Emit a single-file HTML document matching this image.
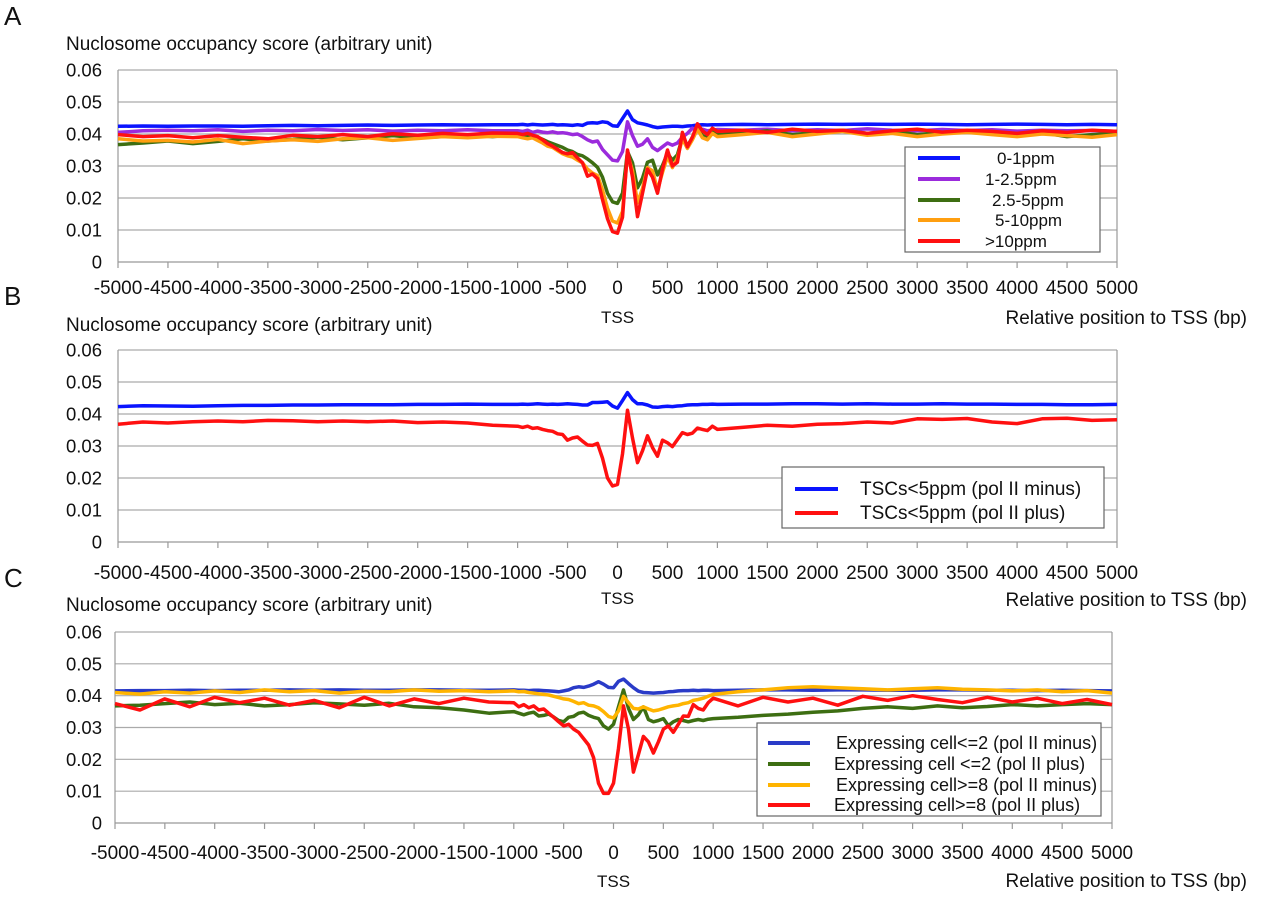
<!DOCTYPE html>
<html><head><meta charset="utf-8"><style>
body{margin:0;background:#fff;width:1280px;height:892px;overflow:hidden}
svg text{font-family:"Liberation Sans",Arial,sans-serif;fill:#111}
</style></head><body>
<svg id="chart" width="1280" height="892" viewBox="0 0 1280 892" xmlns="http://www.w3.org/2000/svg"></svg>
<script>
const positions=[-5000,-4750,-4500,-4250,-4000,-3750,-3500,-3250,-3000,-2750,-2500,-2250,-2000,-1750,-1500,-1250,
-1000,-950,-900,-850,-800,-750,-700,-650,-600,-550,-500,-450,-400,-350,-300,-250,-200,-150,-100,-50,0,50,100,150,200,250,300,350,400,450,500,550,600,650,700,750,800,850,900,950,1000,
1250,1500,1750,2000,2250,2500,2750,3000,3250,3500,3750,4000,4250,4500,4750,5000];
const xTickLabels=["-5000","-4500","-4000","-3500","-3000","-2500","-2000","-1500","-1000","-500","0","500","1000","1500","2000","2500","3000","3500","4000","4500","5000"];
const yTickLabels=["0","0.01","0.02","0.03","0.04","0.05","0.06"];
const A_blue=[.0424,.0425,.0424,.0425,.0425,.0424,.0426,.0427,.0426,.0427,.0428,.0427,.0428,.0429,.0428,.0429,
.0429,.043,.0428,.043,.0429,.0428,.0429,.043,.0428,.0429,.0428,.0427,.0429,.0427,.0434,.0435,.0434,.0438,.0436,.0426,.0424,.0448,.0472,.0445,.0435,.0432,.0428,.0423,.042,.0422,.0423,.0424,.0424,.0423,.0425,.0426,.0428,.0429,.0428,.0429,.0429,
.043,.0429,.043,.0431,.043,.0431,.043,.0431,.043,.0429,.043,.0431,.043,.0429,.043,.0429];
const A_purple=[.0405,.041,.0412,.041,.0413,.0408,.0412,.041,.0414,.0411,.0413,.0409,.0412,.041,.0413,.041,
.041,.0408,.0412,.0405,.0409,.0406,.0404,.0407,.0403,.0404,.0402,.0398,.04,.0392,.0382,.0375,.0378,.0352,.0335,.0318,.0316,.0345,.0438,.0395,.0362,.0368,.0385,.0358,.0348,.036,.0372,.0365,.0372,.039,.0402,.0418,.041,.0415,.041,.0412,.0414,
.0412,.0415,.041,.0413,.0411,.0416,.0412,.041,.0414,.0411,.0413,.0409,.0412,.041,.0411,.0408];
const A_green=[.0367,.0372,.0378,.037,.0377,.0385,.0378,.0383,.039,.0382,.0388,.0395,.0388,.0392,.0397,.0392,
.0398,.0394,.0396,.0392,.039,.0383,.0376,.037,.0364,.0358,.035,.0345,.0336,.0332,.0322,.031,.0296,.0265,.0215,.0188,.0183,.0215,.0345,.031,.0232,.0262,.0312,.0318,.0272,.0302,.034,.0318,.0335,.0388,.0362,.039,.0418,.0395,.0388,.041,.0398,
.0402,.041,.0398,.0405,.0412,.0402,.0408,.0398,.0405,.041,.0402,.0396,.0404,.0392,.0398,.0402];
const A_orange=[.0385,.0378,.038,.0375,.0383,.037,.0378,.0382,.0377,.0385,.0388,.038,.0386,.0392,.0388,.0393,
.0392,.0388,.0385,.0388,.038,.0372,.0362,.0358,.0348,.0338,.0332,.0328,.0318,.031,.029,.0278,.027,.0225,.0168,.0128,.0122,.0158,.0338,.0285,.0185,.023,.0295,.0285,.0225,.028,.033,.0295,.0325,.0385,.0355,.0382,.0415,.0388,.0382,.0402,.0392,
.0398,.0405,.0392,.04,.0408,.0396,.0402,.0392,.04,.0405,.0398,.0392,.04,.0395,.039,.0398];
const A_red=[.0398,.0392,.0395,.0388,.0395,.039,.0385,.0396,.0392,.0398,.0392,.0401,.0396,.0402,.0398,.0403,
.0402,.0398,.0402,.0396,.0392,.0382,.037,.0362,.0352,.0342,.0338,.0342,.0325,.031,.0268,.0275,.026,.0195,.0135,.0095,.009,.014,.035,.0265,.0142,.0215,.029,.0265,.0215,.029,.035,.03,.0312,.0405,.036,.039,.0432,.041,.0398,.0418,.0408,
.0412,.0405,.0415,.0408,.0412,.0402,.041,.0415,.0406,.0412,.0408,.0402,.041,.0405,.0412,.0408];
const B_blue=[.0423,.0426,.0425,.0424,.0426,.0427,.0427,.0428,.0428,.0429,.0429,.0429,.043,.043,.0431,.043,
.043,.0431,.043,.0431,.0432,.0431,.043,.0431,.043,.0431,.0432,.0431,.043,.0428,.0428,.0436,.0436,.0437,.0438,.0425,.0418,.0442,.0467,.0445,.0432,.0432,.0428,.0422,.0421,.0423,.0424,.0423,.0425,.0426,.0428,.0429,.0429,.043,.043,.0431,.043,
.0431,.0431,.0432,.0432,.0431,.0432,.0431,.0431,.0432,.0431,.0431,.043,.043,.0429,.0429,.043];
const B_red=[.0368,.0375,.0372,.0376,.0378,.0376,.038,.0379,.0376,.0378,.0376,.0378,.0373,.0375,.0372,.0365,
.0362,.0358,.0362,.0355,.0357,.0352,.0348,.0346,.0338,.0336,.0318,.0325,.0328,.0315,.0303,.0302,.0308,.0262,.02,.0175,.018,.0275,.0412,.0325,.0248,.0285,.0332,.0295,.0268,.0318,.031,.0298,.032,.0342,.0336,.034,.0356,.0352,.0348,.0362,.0352,
.0358,.0365,.0362,.0368,.037,.0375,.0372,.0385,.0383,.0386,.0375,.037,.0385,.0387,.038,.0382];
const C_blue=[.0415,.0416,.0416,.0417,.0416,.0417,.0417,.0418,.0417,.0418,.0417,.0417,.0418,.0418,.0417,.0417,
.0418,.0417,.0417,.0416,.0417,.0417,.0416,.0415,.0414,.0412,.0415,.0418,.0425,.0428,.0426,.043,.0436,.0444,.0436,.0426,.0425,.0445,.0452,.0438,.0425,.0414,.041,.0409,.0408,.0409,.041,.0412,.0413,.0415,.0416,.0416,.0417,.0416,.0417,.0417,.0416,
.0417,.0418,.0418,.0417,.0418,.0418,.0417,.0417,.0418,.0418,.0417,.0417,.0416,.0417,.0416,.0415];
const C_green=[.0368,.037,.0375,.038,.0372,.0376,.0368,.0372,.0378,.0374,.037,.0376,.0365,.0362,.0355,.0345,
.035,.0345,.034,.0345,.0348,.0336,.0338,.0342,.0333,.0322,.0318,.0332,.0335,.0345,.0348,.0338,.0332,.0328,.0305,.0295,.031,.0365,.0418,.036,.0325,.034,.0365,.0325,.0318,.0322,.0328,.0306,.0318,.0325,.0322,.0318,.0322,.0325,.0322,.0326,.0328,
.0332,.0338,.0342,.0348,.0352,.036,.0365,.036,.0368,.0362,.0366,.0372,.0368,.0372,.0375,.0372];
const C_orange=[.041,.0405,.0412,.0408,.0415,.041,.0418,.0412,.0416,.0408,.0414,.0412,.0418,.0414,.0416,.0412,
.0415,.0412,.0413,.041,.0408,.0406,.0404,.0402,.0398,.0394,.039,.0388,.0382,.0375,.0378,.037,.0368,.0362,.035,.0335,.033,.0352,.0398,.0378,.036,.0358,.0365,.0358,.0352,.0355,.036,.0365,.0368,.037,.0375,.0378,.0385,.0388,.0392,.0398,.0404,
.0412,.0418,.0425,.0428,.0425,.0422,.0418,.0422,.0425,.042,.0418,.0415,.0418,.0412,.0416,.0408];
const C_red=[.0375,.0355,.039,.0365,.0395,.0378,.0392,.037,.0385,.0362,.0395,.0368,.039,.0375,.0392,.038,
.0378,.0365,.0372,.0362,.0368,.0355,.0358,.0345,.0332,.0318,.0305,.031,.0295,.0285,.0265,.0245,.0205,.0125,.0093,.0093,.0125,.0235,.0368,.0295,.016,.0215,.0272,.0255,.022,.0255,.0295,.0305,.0285,.031,.0336,.0335,.0372,.036,.0355,.0378,.0392,
.0368,.0395,.038,.0392,.037,.0398,.0385,.04,.0388,.0378,.0395,.038,.0392,.0375,.0388,.0372];

const NS="http://www.w3.org/2000/svg";
const svg=document.getElementById('chart');
function mk(tag,attrs,parent){const e=document.createElementNS(NS,tag);for(const k in attrs)e.setAttribute(k,attrs[k]);(parent||svg).appendChild(e);return e;}
function txt(x,y,s,size,anchor,parent){const t=mk('text',{x:x,y:y,'font-size':size,'text-anchor':anchor||'start'},parent);t.textContent=s;return t;}

function panel(cfg){
  const g=mk('g',{});
  
  
  const L=cfg.left,R=cfg.right,T=cfg.top,B=cfg.bottom;
  const xs=p=>L+(p+5000)/10000*(R-L);
  const ys=v=>B-v/0.06*(B-T);
  const lt=txt(4,cfg.letterY,cfg.letter,26,'start',g);
  
  
  const yt=txt(66,cfg.titleY,'Nuclosome occupancy score (arbitrary unit)',19,'start',g);
  
  
  yTickLabels.forEach((lab,i)=>{
    const v=i*0.01,y=ys(v);
    if(i>0){const gl=mk('line',{x1:L,x2:R,y1:y,y2:y,stroke:'#aaa','stroke-width':1.2},g);
      
      }
    const t=txt(102,y+6.5,lab,18.5,'end',g);
    
    
  });
  mk('line',{x1:L,x2:L,y1:T,y2:B,stroke:'#999','stroke-width':1.2},g);
  mk('line',{x1:R,x2:R,y1:T,y2:B,stroke:'#999','stroke-width':1.2},g);
  mk('line',{x1:L,x2:R,y1:B,y2:B,stroke:'#999','stroke-width':1.2},g);
  xTickLabels.forEach(lab=>{
    const x=xs(+lab);
    mk('line',{x1:x,x2:x,y1:B,y2:B+6,stroke:'#999','stroke-width':1.2},g);
    const t=txt(x,cfg.labY,lab,19,'middle',g);
    
    
  });
  const tss=txt(xs(0),cfg.tssY,'TSS',17,'middle',g);
  
  
  const xt=txt(1247,cfg.relY,'Relative position to TSS (bp)',19,'end',g);
  
  
  cfg.series.forEach(s=>{
    const d=positions.map((p,i)=>(i?'L':'M')+xs(p).toFixed(1)+','+ys(s.values[i]).toFixed(1)).join('');
    const pa=mk('path',{d:d,fill:'none',stroke:s.color,'stroke-width':3.5,'stroke-linejoin':'round'},g);
    
    
  });
  const lg=cfg.legend;
  const lgG=mk('g',{},g);
  
  
  mk('rect',{x:lg.x,y:lg.y,width:lg.w,height:lg.h,fill:'#fff',stroke:'#666','stroke-width':1.2},lgG);
  cfg.series.forEach((s,i)=>{
    const y=lg.rows[i];
    const ln=mk('line',{x1:lg.lx1,x2:lg.lx2,y1:y,y2:y,stroke:s.color,'stroke-width':4},lgG);
    
    
    const t=txt(lg.tx[i],y+6,s.label,lg.fs,'start',lgG);
    
    
  });
}
panel({letter:'A',letterY:25,titleY:50,labY:294,left:118,right:1117,top:70,bottom:262,tssY:323,relY:324,
 series:[{key:'0-1ppm',label:'0-1ppm',color:'#0a14ff',values:A_blue},
  {key:'1-2.5ppm',label:'1-2.5ppm',color:'#9b2bdc',values:A_purple},
  {key:'2.5-5ppm',label:'2.5-5ppm',color:'#3d6e12',values:A_green},
  {key:'5-10ppm',label:'5-10ppm',color:'#ff9f10',values:A_orange},
  {key:'gt10ppm',label:'>10ppm',color:'#ff1010',values:A_red}],
 legend:{x:905,y:147,w:195,h:105,lx1:918,lx2:960,rows:[158,179,200,220,241],tx:[997,985,992,995,985],fs:17}});
panel({letter:'B',letterY:305,titleY:331,labY:579,left:118,right:1117,top:350,bottom:542,tssY:604,relY:606,
 series:[{key:'pol2-minus',label:'TSCs<5ppm (pol II minus)',color:'#0a14ff',values:B_blue},
  {key:'pol2-plus',label:'TSCs<5ppm (pol II plus)',color:'#ff1010',values:B_red}],
 legend:{x:782,y:467,w:322,h:61,lx1:795,lx2:838,rows:[489,513],tx:[860,860],fs:19}});
panel({letter:'C',letterY:587,titleY:611,labY:859,left:115,right:1112,top:632,bottom:823,tssY:887,relY:887,
 series:[{key:'le2-minus',label:'Expressing cell<=2 (pol II minus)',color:'#2a3bc8',values:C_blue},
  {key:'le2-plus',label:'Expressing cell <=2 (pol II plus)',color:'#3d6e12',values:C_green},
  {key:'ge8-minus',label:'Expressing cell>=8 (pol II minus)',color:'#ffb400',values:C_orange},
  {key:'ge8-plus',label:'Expressing cell>=8 (pol II plus)',color:'#ff1010',values:C_red}],
 legend:{x:757,y:723,w:344,h:93,lx1:768,lx2:810,rows:[743,764,785,805],tx:[836,834,836,834],fs:18}});
</script>
</body></html>
